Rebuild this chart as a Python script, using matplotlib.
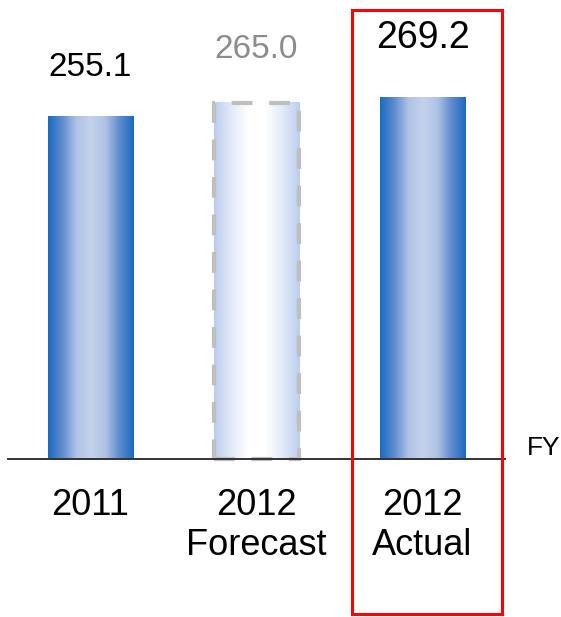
import numpy as np
import matplotlib
matplotlib.use('Agg')
import matplotlib.pyplot as plt
from matplotlib.patches import Rectangle
from matplotlib.colors import LinearSegmentedColormap

plt.rcParams['font.family'] = ['Liberation Sans', 'DejaVu Sans']

# data
categories = ['2011', '2012\nForecast', '2012\nActual']
values = [255.1, 265.0, 269.2]
value_labels = ['255.1', '265.0', '269.2']

# layout / style
label_y = [285, 298, 306]          # baseline of the value labels (data units)
label_size = [24, 24, 27]
label_color = ['black', '#8c8c8c', 'black']
bar_w = 0.512

solid = LinearSegmentedColormap.from_list(
    'solid', ['#1a6bbf', '#5f8ccf', '#b0c3e6', '#c4d2ec', '#b0c3e6', '#5f8ccf', '#1a6bbf'])
ghost = LinearSegmentedColormap.from_list(
    'ghost', ['#bccdee', '#e2eaf8', '#ffffff', '#ffffff', '#e2eaf8', '#bccdee'])

fig = plt.figure(figsize=(5.61, 6.17), dpi=100)
ax = fig.add_axes([0, 0, 1, 1])
ax.axis('off')

grad = np.linspace(0, 1, 256).reshape(1, -1)
x = np.arange(len(values))
for i, v in enumerate(values):
    cmap = ghost if i == 1 else solid
    ax.imshow(grad, cmap=cmap, aspect='auto', interpolation='bilinear',
              extent=[x[i] - bar_w / 2, x[i] + bar_w / 2, 0, v], zorder=2)
    if i == 1:
        ax.add_patch(Rectangle((x[i] - bar_w / 2, 0), bar_w, v, fill=False,
                               edgecolor='#bfbfbf', lw=3, linestyle=(0, (5, 4)),
                               zorder=3))
    ax.text(x[i], label_y[i], value_labels[i], ha='center', va='baseline',
            fontsize=label_size[i], color=label_color[i])
    ax.text(x[i], -21.5, categories[i], ha='center', va='top', fontsize=26,
            linespacing=1.2)

ax.set_xlim(-0.545, 2.834)
ax.set_ylim(-117.5, 341.4)

# axis line
ax.plot([-0.497, 2.497], [0, 0], color='#333333', lw=1.4, zorder=4)
ax.text(2.73, 8, 'FY', ha='center', va='center', fontsize=19)

# highlight box
ax.add_patch(Rectangle((1.578, -114.9), 2.476 - 1.578, 334.3 + 114.9,
                       fill=False, edgecolor='red', lw=2.2, clip_on=False, zorder=5))

fig.savefig('out.png', dpi=100)
